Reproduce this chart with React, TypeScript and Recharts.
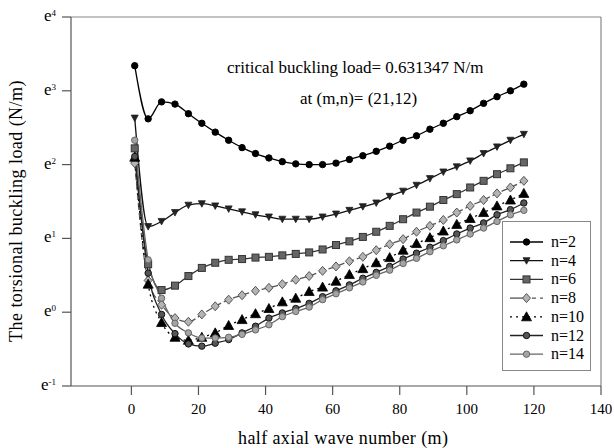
import React from 'react';
import { LineChart, Line, XAxis, YAxis, ReferenceLine, Legend } from 'recharts';

const SERIF = "'Liberation Serif', 'Times New Roman', Times, serif";

// half axial wave number m
const mValues = [1, 5, 9, 13, 17, 21, 25, 29, 33, 37, 41, 45, 49, 53, 57, 61, 65, 69, 73, 77, 81, 85, 89, 93, 97, 101, 105, 109, 113, 117];

// ln of torsional buckling load (N/m) (ticks e^-1 .. e^4)
const n2 = [3.34, 2.62, 2.85, 2.82, 2.69, 2.56, 2.44, 2.33, 2.23, 2.15, 2.09, 2.04, 2.01, 2.0, 2.0, 2.02, 2.07, 2.12, 2.18, 2.25, 2.33, 2.39, 2.48, 2.56, 2.65, 2.73, 2.83, 2.92, 3.0, 3.09];
const n4 = [2.63, 1.16, 1.23, 1.35, 1.45, 1.47, 1.44, 1.4, 1.36, 1.32, 1.29, 1.26, 1.26, 1.26, 1.29, 1.33, 1.38, 1.43, 1.48, 1.57, 1.64, 1.72, 1.81, 1.9, 1.97, 2.05, 2.15, 2.24, 2.33, 2.41];
const n6 = [2.22, 0.65, 0.3, 0.36, 0.49, 0.6, 0.67, 0.71, 0.72, 0.74, 0.75, 0.77, 0.79, 0.81, 0.85, 0.91, 0.96, 1.02, 1.09, 1.17, 1.26, 1.35, 1.43, 1.52, 1.6, 1.69, 1.78, 1.87, 1.95, 2.03];
const n8 = [2.02, 0.43, 0.1, -0.08, -0.13, -0.03, 0.08, 0.17, 0.23, 0.29, 0.33, 0.38, 0.44, 0.49, 0.56, 0.62, 0.69, 0.75, 0.84, 0.92, 0.99, 1.09, 1.17, 1.25, 1.35, 1.44, 1.52, 1.61, 1.69, 1.78];
const n10 = [2.1, 0.38, -0.14, -0.34, -0.38, -0.34, -0.28, -0.18, -0.1, -0.02, 0.05, 0.14, 0.19, 0.28, 0.34, 0.42, 0.51, 0.59, 0.67, 0.74, 0.84, 0.93, 1.01, 1.1, 1.19, 1.27, 1.35, 1.44, 1.52, 1.61];
const n12 = [2.11, 0.53, -0.03, -0.29, -0.43, -0.46, -0.42, -0.37, -0.28, -0.19, -0.08, -0.01, 0.05, 0.12, 0.21, 0.29, 0.37, 0.46, 0.54, 0.62, 0.72, 0.8, 0.88, 0.97, 1.06, 1.14, 1.21, 1.32, 1.39, 1.48];
const n14 = [2.33, 0.71, 0.19, -0.15, -0.28, -0.35, -0.35, -0.34, -0.3, -0.24, -0.17, -0.06, 0.01, 0.07, 0.17, 0.25, 0.33, 0.41, 0.5, 0.57, 0.66, 0.73, 0.82, 0.9, 0.98, 1.06, 1.14, 1.23, 1.32, 1.38];

const seriesNames = ['n=2', 'n=4', 'n=6', 'n=8', 'n=10', 'n=12', 'n=14'];
const xTicks = [0, 20, 40, 60, 80, 100, 120, 140];
const yTicks = [-1, 0, 1, 2, 3, 4];

const annotationLine1 = 'critical buckling load= 0.631347 N/m';
const annotationLine2 = 'at (m,n)= (21,12)';
const xTitle = 'half axial wave number (m)';
const yTitle = 'The torsional buckling load (N/m)';

const data = mValues.map((m, i) => ({
  m,
  n2: n2[i],
  n4: n4[i],
  n6: n6[i],
  n8: n8[i],
  n10: n10[i],
  n12: n12[i],
  n14: n14[i],
}));

type Kind = 'circle' | 'triDown' | 'square' | 'diamond' | 'triUp';

interface SeriesStyle {
  key: string;
  name: string;
  line: string;
  dash?: string;
  kind: Kind;
  fill: string;
  stroke: string;
}

const series: SeriesStyle[] = [
  { key: 'n2', name: seriesNames[0], line: '#000', kind: 'circle', fill: '#000', stroke: '#000' },
  { key: 'n4', name: seriesNames[1], line: '#111', kind: 'triDown', fill: '#222', stroke: '#222' },
  { key: 'n6', name: seriesNames[2], line: '#333', kind: 'square', fill: '#666', stroke: '#333' },
  { key: 'n8', name: seriesNames[3], line: '#555', dash: '7 3', kind: 'diamond', fill: '#b4b4b4', stroke: '#555' },
  { key: 'n10', name: seriesNames[4], line: '#000', dash: '2 4', kind: 'triUp', fill: '#000', stroke: '#000' },
  { key: 'n12', name: seriesNames[5], line: '#222', kind: 'circle', fill: '#555', stroke: '#111' },
  { key: 'n14', name: seriesNames[6], line: '#666', kind: 'circle', fill: '#a4a4a4', stroke: '#666' },
];

function Marker({ kind, cx, cy, fill, stroke }: { kind: Kind; cx: number; cy: number; fill: string; stroke: string }) {
  if (cx == null || cy == null || isNaN(cx) || isNaN(cy)) return null;
  switch (kind) {
    case 'circle':
      return <circle cx={cx} cy={cy} r={3.2} fill={fill} stroke={stroke} strokeWidth={1} />;
    case 'triDown':
      return <polygon points={`${cx - 3.5},${cy - 3} ${cx + 3.5},${cy - 3} ${cx},${cy + 3.5}`} fill={fill} stroke={stroke} strokeWidth={0.8} />;
    case 'square':
      return <rect x={cx - 3.5} y={cy - 3.5} width={7} height={7} fill={fill} stroke={stroke} strokeWidth={1} />;
    case 'diamond':
      return <polygon points={`${cx},${cy - 4.5} ${cx + 4},${cy} ${cx},${cy + 4.5} ${cx - 4},${cy}`} fill={fill} stroke={stroke} strokeWidth={1} />;
    case 'triUp':
      return <polygon points={`${cx},${cy - 5} ${cx + 5},${cy + 4} ${cx - 5},${cy + 4}`} fill={fill} stroke={stroke} strokeWidth={0.8} />;
  }
  return null;
}

const makeDot = (s: SeriesStyle) => (props: any) => (
  <Marker key={`${s.key}-${props.index}`} kind={s.kind} cx={props.cx} cy={props.cy} fill={s.fill} stroke={s.stroke} />
);

const YTick = (props: any) => {
  const { x, y, payload } = props;
  return (
    <text x={x} y={y + 4} textAnchor="end" fontFamily={SERIF} fill="#000">
      <tspan fontSize={17}>e</tspan>
      <tspan fontSize={9} dy={-5}>{payload.value}</tspan>
    </text>
  );
};

const LegendBox = () => (
  <svg width={89} height={150} style={{ display: 'block' }}>
    <rect x={0.5} y={0.5} width={88} height={149} fill="#fff" stroke="#888" strokeWidth={1} />
    {series.map((s, i) => {
      const y = 21 + i * 18.7;
      return (
        <g key={s.key}>
          {s.key === 'n8' ? (
            <>
              <line x1={8} y1={y} x2={24} y2={y} stroke={s.line} strokeWidth={1.3} />
              <line x1={30} y1={y} x2={41} y2={y} stroke={s.line} strokeWidth={1.3} strokeDasharray="4 4" />
            </>
          ) : (
            <line x1={8} y1={y} x2={41} y2={y} stroke={s.line} strokeWidth={1.3} strokeDasharray={s.dash} />
          )}
          <Marker kind={s.kind} cx={24.5} cy={y} fill={s.fill} stroke={s.stroke} />
          <text x={49} y={y + 5} fontSize={16} fontFamily={SERIF} fill="#000">
            {s.name}
          </text>
        </g>
      );
    })}
  </svg>
);

export default function App() {
  return (
    <div style={{ position: 'absolute', left: 0, top: 0, width: 614, height: 448, background: '#fff' }}>
      <LineChart width={614} height={448} data={data} margin={{ top: 17, right: 13, bottom: 0, left: 0 }}>
        <XAxis
          dataKey="m"
          type="number"
          domain={[-18, 140]}
          allowDataOverflow
          ticks={xTicks}
          height={62}
          tickSize={9}
          tickMargin={8}
          axisLine={{ stroke: '#555', strokeWidth: 1.2 }}
          tickLine={{ stroke: '#555', strokeWidth: 1.2 }}
          tick={{ fontSize: 15, fill: '#000', fontFamily: SERIF }}
        />
        <YAxis
          type="number"
          domain={[-1, 4]}
          allowDataOverflow
          ticks={yTicks}
          width={71}
          tickSize={9}
          tickMargin={6}
          axisLine={{ stroke: '#555', strokeWidth: 1.2 }}
          tickLine={{ stroke: '#555', strokeWidth: 1.2 }}
          tick={<YTick />}
        />
        <ReferenceLine y={4} stroke="#888" strokeWidth={1.2} />
        <ReferenceLine x={140} stroke="#888" strokeWidth={1.2} />
        {series.map((s) => (
          <Line
            key={s.key}
            dataKey={s.key}
            name={s.name}
            type="monotone"
            stroke={s.line}
            strokeWidth={1.3}
            strokeDasharray={s.dash}
            dot={makeDot(s)}
            activeDot={false}
            isAnimationActive={false}
          />
        ))}
        <Legend
          layout="vertical"
          align="center"
          verticalAlign="middle"
          content={() => <LegendBox />}
          wrapperStyle={{ position: 'absolute', left: 502, top: 221, width: 89, height: 150 }}
        />
      </LineChart>
      <svg
        width={614}
        height={448}
        style={{ position: 'absolute', left: 0, top: 0, pointerEvents: 'none' }}
      >
        <text x={227} y={73} fontSize={17} fontFamily={SERIF} fill="#000">
          {annotationLine1}
        </text>
        <text x={300} y={104} fontSize={17} fontFamily={SERIF} fill="#000">
          {annotationLine2}
        </text>
        <text x={238} y={444} fontSize={18} fontFamily={SERIF} fill="#000" letterSpacing={0.4}>
          {xTitle}
        </text>
        <text
          transform="translate(22,211) rotate(-90)"
          textAnchor="middle"
          fontSize={18}
          fontFamily={SERIF}
          fill="#000"
          letterSpacing={0.45}
        >
          {yTitle}
        </text>
      </svg>
    </div>
  );
}
